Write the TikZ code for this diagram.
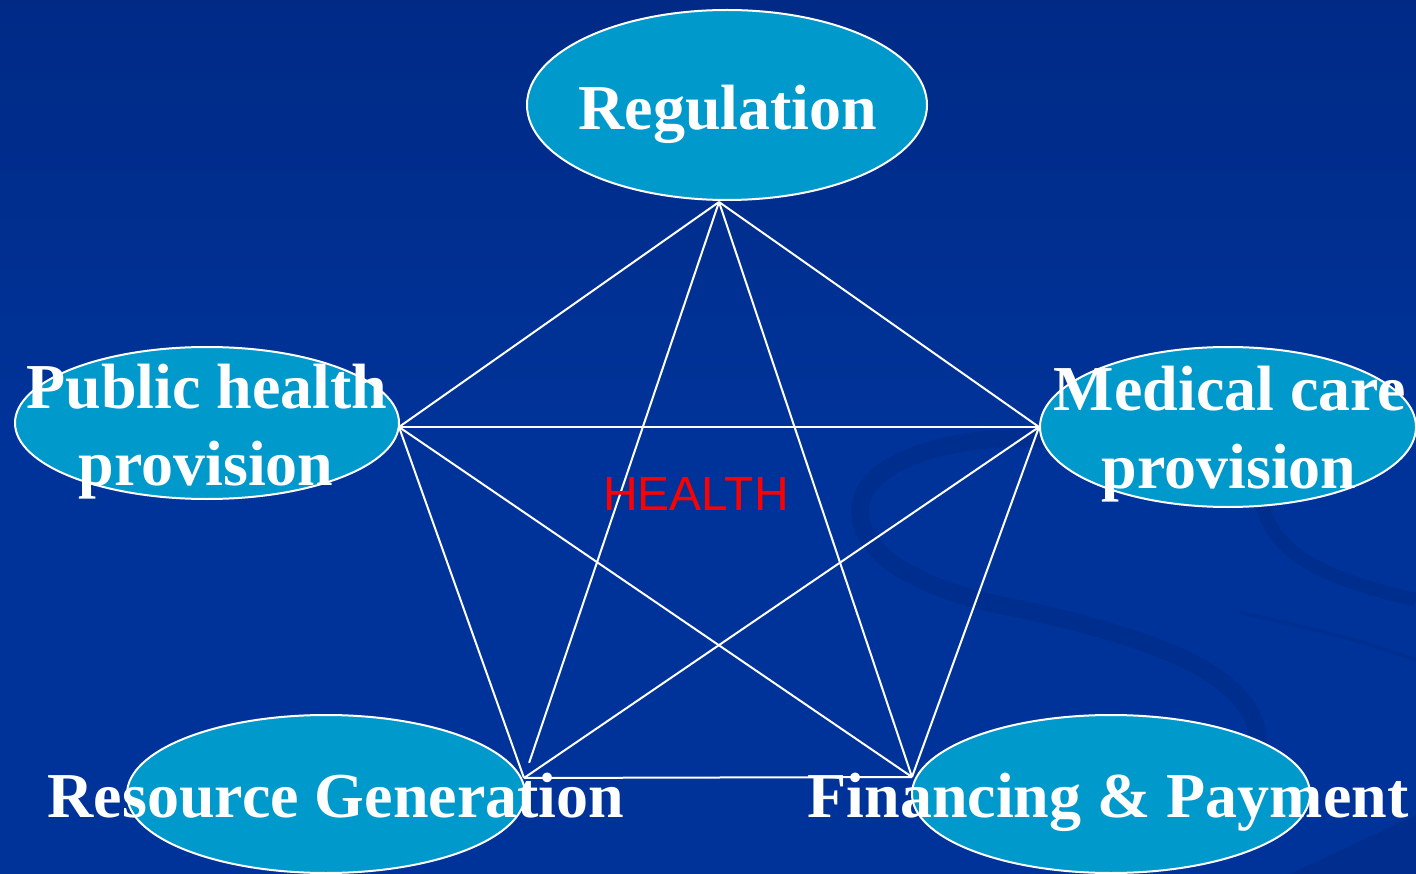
\documentclass[tikz,border=0pt]{standalone}
\usepackage{fontspec}
\setmainfont{Liberation Serif}
\newfontfamily\labelsans{Liberation Sans}
\usetikzlibrary{shapes.geometric}

\definecolor{bgtop}{HTML}{002A86}
\definecolor{bgbot}{HTML}{003399}
\definecolor{swirl}{HTML}{001F70}
\definecolor{bubblefill}{HTML}{0099CC}

\begin{document}
\begin{tikzpicture}[x=1pt,y=-1pt,
  bubble/.style={ellipse, draw=white, line width=2pt, fill=bubblefill, inner sep=0pt},
  title/.style={text=white, font=\fontsize{64}{77}\selectfont\bfseries, inner sep=0pt, anchor=base},
  link/.style={draw=white, line width=2pt},
  swirlband/.style={draw=swirl, opacity=0.22}]

  % background
  \fill[top color=bgtop, bottom color=bgbot, middle color=bgbot] (0,0) rectangle (1416,874);
  \useasboundingbox (0,0) rectangle (1416,874);

  % faint decorative swirl on the right
  \draw[swirlband, line width=18pt] (1060,440) .. controls (960,430) and (860,460) .. (860,510)
        .. controls (860,560) and (930,590) .. (1000,605)
        .. controls (1100,625) and (1180,650) .. (1220,680)
        .. controls (1260,710) and (1265,740) .. (1250,780);
  \draw[swirlband, line width=14pt] (1262,505) .. controls (1275,550) and (1310,575) .. (1416,600);
  \draw[swirlband, line width=4pt, opacity=0.18] (1240,613) .. controls (1300,625) and (1360,640) .. (1416,660);
  \fill[swirl, opacity=0.25] (1290,874) -- (1416,815) -- (1416,874) -- cycle;

  % the five functions
  \node[bubble, minimum width=400pt, minimum height=190pt] (R) at (727,105) {};
  \node[bubble, minimum width=384pt, minimum height=152pt] (P) at (207,423) {};
  \node[bubble, minimum width=376pt, minimum height=160pt] (M) at (1228,427) {};
  \node[bubble, minimum width=398pt, minimum height=158pt] (G) at (326,794) {};
  \node[bubble, minimum width=398pt, minimum height=158pt] (F) at (1111,794) {};

  % meeting points of the links
  \coordinate (vR) at (719,202);
  \coordinate (vP) at (399,427);
  \coordinate (vM) at (1039,427);
  \coordinate (vG) at (524,778);
  \coordinate (vF) at (912,777);

  % every function is linked to every other
  \draw[link] (vR) -- (vP);
  \draw[link] (vR) -- (vM);
  \draw[link, shorten >=16pt] (vR) -- (vG);
  \draw[link] (vR) -- (vF);
  \draw[link] (vP) -- (vM);
  \draw[link] (vP) -- (vG);
  \draw[link] (vP) -- (vF);
  \draw[link] (vM) -- (vG);
  \draw[link] (vM) -- (vF);
  \draw[link] (vG) -- (vF);

  % labels
  \node[title] (tR) at (728,130) {Regulation};
  \node[title] (tPa) at (207,408) {Public health};
  \node[title] (tPb) at (206,485) {provision};
  \node[title] (tMa) at (1230,410) {Medical care};
  \node[title] (tMb) at (1229,488) {provision};
  \node[title] (tG) at (336,817) {Resource Generation};
  \node[title] (tF) at (1108,817) {Financing \& Payment};

  \node[text=red, font=\labelsans\fontsize{48}{56}\selectfont, inner sep=0pt, anchor=base] (health) at (696,510) {HEALTH};
\end{tikzpicture}
\end{document}
